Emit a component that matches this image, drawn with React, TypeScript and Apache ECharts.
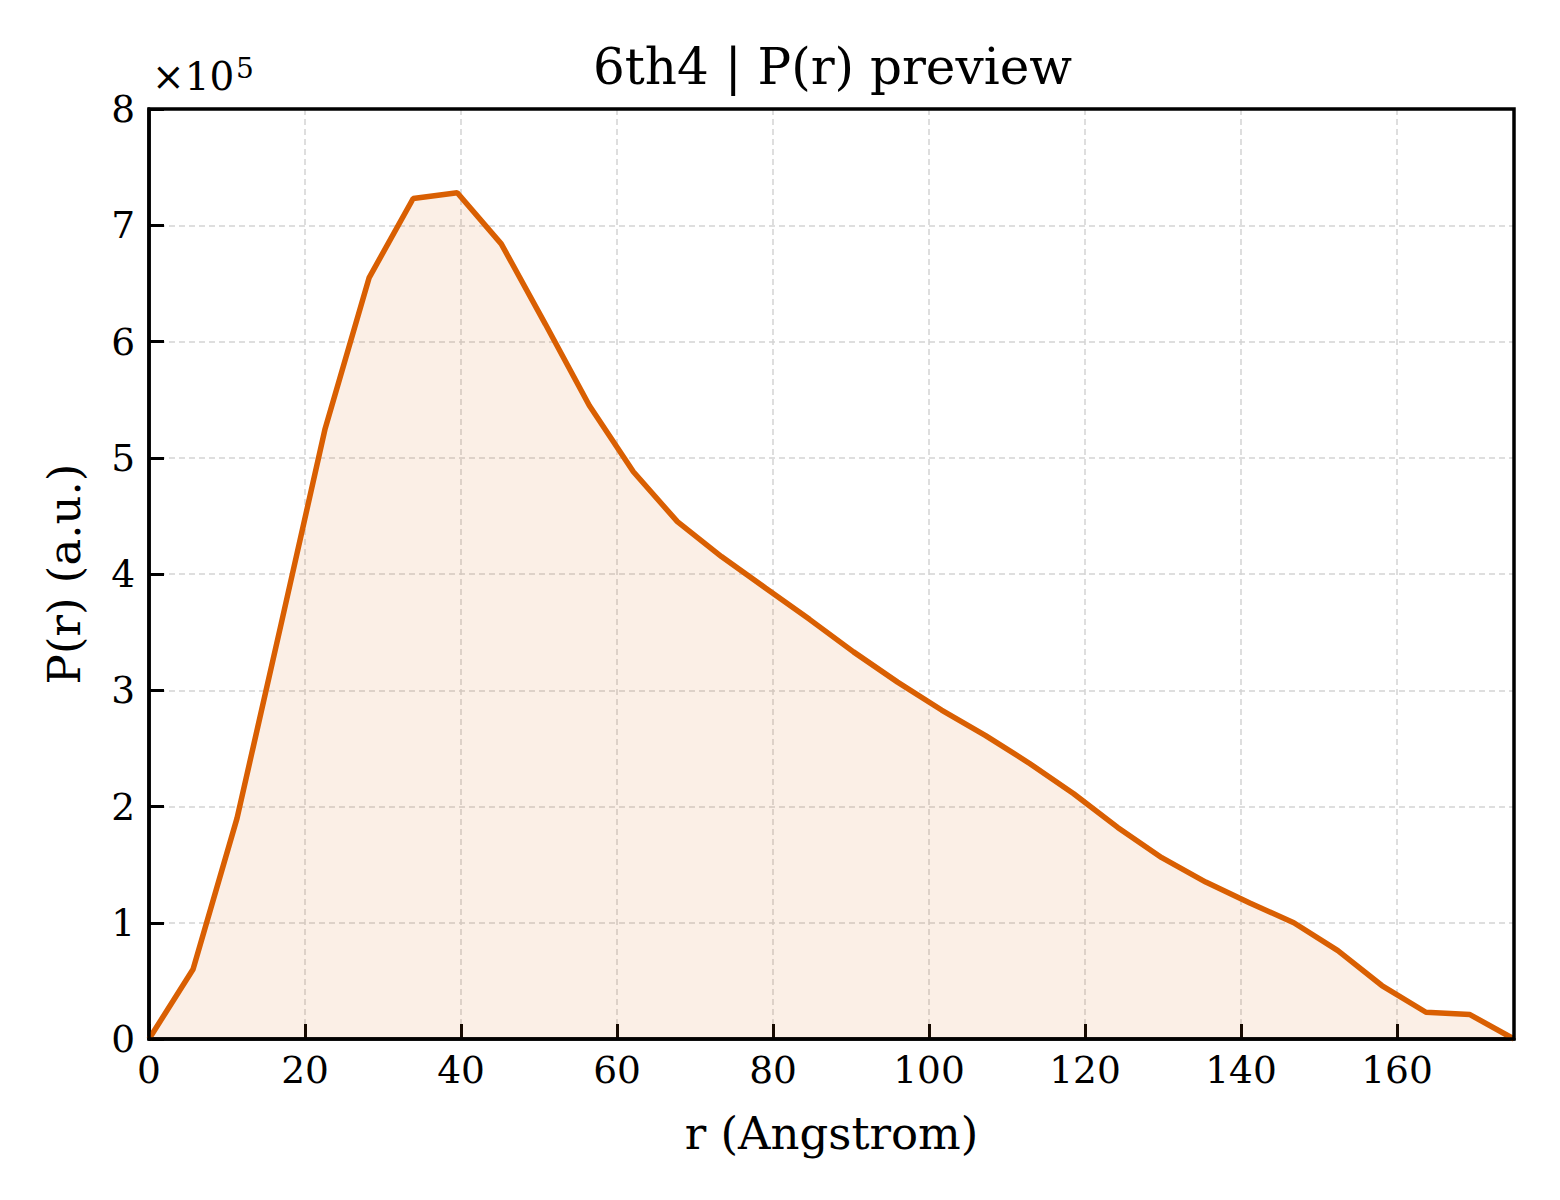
import React, { useEffect, useRef } from "react";
import * as echarts from "echarts";

const TITLE = "6th4 | P(r) preview";
const X_NAME = "r (Angstrom)";
const Y_NAME = "P(r) (a.u.)";
const SCALE = 1e5;

// r values (Angstrom)
const rValues = [
  0, 5.65, 11.29, 16.94, 22.58, 28.23, 33.87, 39.52, 45.16, 50.81, 56.45,
  62.1, 67.74, 73.39, 79.03, 84.68, 90.32, 95.97, 101.61, 107.26, 112.9,
  118.55, 124.19, 129.84, 135.48, 141.13, 146.77, 152.42, 158.06, 163.71,
  169.35, 175,
];

// P(r) in units of 1e5
const prValues = [
  0, 0.6, 1.9, 3.57, 5.25, 6.55, 7.23, 7.28, 6.84, 6.15, 5.45, 4.88, 4.45,
  4.15, 3.88, 3.61, 3.33, 3.07, 2.83, 2.61, 2.37, 2.11, 1.82, 1.56, 1.35,
  1.17, 1.0, 0.76, 0.46, 0.23, 0.21, 0,
];

const xTicks = [0, 20, 40, 60, 80, 100, 120, 140, 160];
const yTicks = [0, 1, 2, 3, 4, 5, 6, 7, 8];

const FONT = "DejaVu Serif";
const LINE_COLOR = "#D95F02";

export default function App() {
  const ref = useRef<HTMLDivElement>(null);

  useEffect(() => {
    document.body.style.margin = "0";
    if (!ref.current) return;
    const chart = echarts.init(ref.current, undefined, { renderer: "svg" });
    const data = rValues.map((r, i) => [r, prValues[i] * SCALE]);
    const gridLeft = 149;
    const gridTop = 109;
    const gridW = 1365;
    const gridH = 930;

    chart.setOption({
      animation: false,
      backgroundColor: "#ffffff",
      textStyle: { fontFamily: FONT },
      title: {
        text: TITLE,
        left: gridLeft + gridW / 2 - 4,
        top: 37,
        textAlign: "center",
        textStyle: {
          fontFamily: FONT,
          fontSize: 50,
          fontWeight: "normal",
          color: "#000",
        },
      },
      grid: {
        left: gridLeft,
        top: gridTop,
        width: gridW,
        height: gridH,
        show: false,
      },
      xAxis: {
        type: "value",
        min: 0,
        max: 175,
        interval: 20,
        name: X_NAME,
        nameLocation: "middle",
        nameGap: 72,
        nameTextStyle: { fontFamily: FONT, fontSize: 45, color: "#000" },
        axisLine: { show: true, lineStyle: { color: "#000", width: 3.5 } },
        axisTick: {
          show: true,
          inside: true,
          length: 15,
          lineStyle: { color: "#000", width: 3 },
        },
        axisLabel: {
          fontFamily: FONT,
          fontSize: 37.5,
          color: "#000",
          margin: 12,
          showMaxLabel: false,
          formatter: (v: number) => (xTicks.includes(v) ? String(v) : ""),
        },
        splitLine: {
          show: true,
          showMinLine: false,
          showMaxLine: false,
          lineStyle: { color: "#d4d4d4", width: 1.5, type: [6, 4] },
        },
      },
      yAxis: {
        type: "value",
        min: 0,
        max: 8 * SCALE,
        interval: SCALE,
        name: Y_NAME,
        nameLocation: "middle",
        nameGap: 62,
        nameRotate: 90,
        nameTextStyle: { fontFamily: FONT, fontSize: 45, color: "#000" },
        axisLine: { show: true, lineStyle: { color: "#000", width: 3.5 } },
        axisTick: {
          show: true,
          inside: true,
          length: 15,
          lineStyle: { color: "#000", width: 3 },
        },
        axisLabel: {
          fontFamily: FONT,
          fontSize: 37.5,
          color: "#000",
          margin: 14,
          formatter: (v: number) => {
            const t = Math.round(v / SCALE);
            return yTicks.includes(t) ? String(t) : "";
          },
        },
        splitLine: {
          show: true,
          showMinLine: false,
          showMaxLine: false,
          lineStyle: { color: "#d4d4d4", width: 1.5, type: [6, 4] },
        },
      },
      graphic: [
        {
          type: "rect",
          z: 100,
          silent: true,
          shape: { x: gridLeft, y: gridTop, width: gridW, height: gridH },
          style: { fill: "none", stroke: "#000", lineWidth: 3.5 },
        },
        {
          type: "text",
          left: 152,
          top: 57,
          style: {
            text: "×10",
            fontFamily: FONT,
            fontSize: 39,
            fill: "#000",
          },
        },
        {
          type: "text",
          left: 236,
          top: 54,
          style: {
            text: "5",
            fontFamily: FONT,
            fontSize: 28,
            fill: "#000",
          },
        },
      ],
      series: [
        {
          type: "line",
          data,
          symbol: "none",
          lineStyle: { color: LINE_COLOR, width: 5.5 },
          itemStyle: { color: LINE_COLOR },
          areaStyle: { color: "rgba(217,95,2,0.14)", origin: "start" },
          z: 3,
        },
      ],
    });

    return () => chart.dispose();
  }, []);

  return <div ref={ref} style={{ width: 1560, height: 1200 }} />;
}
